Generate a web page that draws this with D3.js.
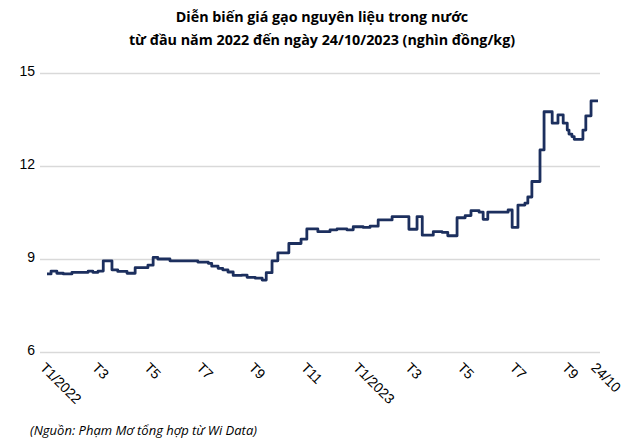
<!DOCTYPE html>
<html>
<head>
<meta charset="utf-8">
<script src="https://cdn.jsdelivr.net/npm/d3@7"></script>
<style>
  body { margin: 0; background: #fff; }
  svg { font-family: "Open Sans", "Noto Sans", sans-serif; }
</style>
</head>
<body>
<svg width="640" height="446"></svg>
<script>
// week index (since early Jan 2022) where the price changes, and the new price
let weeks = [0, 0.7, 1.7, 2.8, 4.3, 7.1, 7.9, 8.8, 9.7, 11.2, 12.2, 13.8, 15.2, 17.4, 18.3, 19.1,
    21.2, 26.0, 27.8, 28.4, 29.5, 30.3, 31.2, 32.1, 33.6, 34.5, 35.9, 37.1, 37.8, 38.8, 39.8,
    41.7, 43.8, 44.8, 46.7, 48.8, 50.0, 51.7, 52.8, 54.5, 55.7, 57.1, 59.5, 62.4, 63.8, 64.7,
    66.6, 68.1, 69.1, 70.7, 72.1, 73.1, 74.5, 75.2, 76.0, 79.5, 80.2, 81.2, 82.4, 82.9, 83.6,
    85.0, 85.7, 87.1, 88.1, 89.0, 89.7, 90.0, 90.5, 90.9, 92.4, 92.9, 93.8, 95];
let prices = [8.52, 8.61, 8.54, 8.52, 8.57, 8.61, 8.57, 8.61, 8.94, 8.65, 8.60, 8.54, 8.72, 8.80, 9.05, 9.00,
    8.94, 8.90, 8.86, 8.77, 8.70, 8.65, 8.58, 8.47, 8.48, 8.41, 8.38, 8.32, 8.56, 8.94, 9.20,
    9.50, 9.64, 9.97, 9.88, 9.94, 9.97, 9.94, 10.04, 10.02, 10.06, 10.26, 10.37, 9.96, 10.37, 9.77,
    9.88, 9.86, 9.75, 10.33, 10.40, 10.56, 10.51, 10.28, 10.51, 10.58, 10.02, 10.74, 10.80, 11.0, 11.5,
    12.52, 13.75, 13.38, 13.65, 13.38, 13.16, 13.03, 12.95, 12.86, 13.16, 13.62, 14.10, 14.10];

let tickWeeks = [0, 9, 18, 27, 36, 45, 54, 63, 72, 81, 90, 95];
let tickLabels = ['T1/2022', 'T3', 'T5', 'T7', 'T9', 'T11', 'T1/2023', 'T3', 'T5', 'T7', 'T9', '24/10'];
let yTicks = [6, 9, 12, 15];

let title1 = 'Diễn biến giá gạo nguyên liệu trong nước';
let title2 = 'từ đầu năm 2022 đến ngày 24/10/2023 (nghìn đồng/kg)';
let source = '(Nguồn: Phạm Mơ tổng hợp từ Wi Data)';

let svg = d3.select('svg');

let xScale = d3.scaleLinear().domain([0, 95]).range([47, 598]);
let yScale = d3.scaleLinear().domain([6, 15]).range([352, 73]);

svg.append('text')
    .attr('x', 322).attr('y', 22)
    .attr('text-anchor', 'middle')
    .style('font-weight', 'bold').style('font-size', '14.3px')
    .text(title1);
svg.append('text')
    .attr('x', 322).attr('y', 45)
    .attr('text-anchor', 'middle')
    .style('font-weight', 'bold').style('font-size', '14.3px')
    .text(title2);

// y axis: gridlines + labels
let yAxis = svg.append('g')
    .attr('transform', 'translate(40, 0)')
    .call(d3.axisLeft(yScale).tickValues(yTicks).tickSize(-560).tickPadding(5));
yAxis.select('.domain').remove();
yAxis.selectAll('.tick line').attr('stroke', '#d9d9d9').attr('stroke-width', 1.5);
yAxis.selectAll('.tick text').style('font-size', '14px').attr('fill', '#000').attr('dy', '0.2em');

// x axis labels, rotated
let xAxis = svg.append('g')
    .attr('transform', 'translate(0, 363)')
    .call(d3.axisBottom(xScale).tickValues(tickWeeks).tickSize(0).tickFormat((d, i) => tickLabels[i]));
xAxis.select('.domain').remove();
xAxis.selectAll('.tick text')
    .attr('y', 0).attr('x', 0).attr('dy', '0.7em')
    .attr('text-anchor', 'start')
    .attr('transform', 'rotate(45) translate(-2, 0)')
    .style('font-size', '14px').attr('fill', '#000');

let points = weeks.map((w, i) => [w, prices[i]]);
let line = d3.line()
    .x(d => xScale(d[0]))
    .y(d => yScale(d[1]))
    .curve(d3.curveStepAfter);

svg.append('path')
    .datum(points)
    .attr('d', line)
    .attr('fill', 'none')
    .attr('stroke', '#1c2f5e')
    .attr('stroke-width', 2.8)
    .attr('stroke-linejoin', 'round');

svg.append('text')
    .attr('x', 30).attr('y', 435)
    .style('font-style', 'italic').style('font-size', '13px')
    .text(source);
</script>
</body>
</html>
